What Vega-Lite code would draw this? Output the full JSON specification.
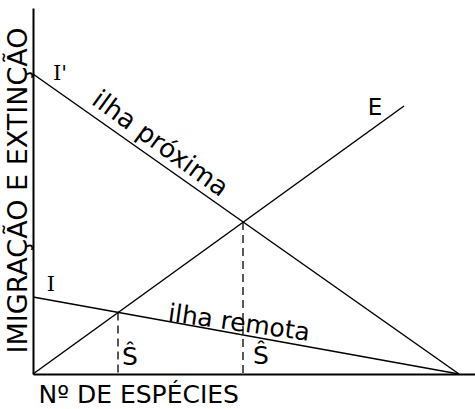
{
  "$schema": "https://vega.github.io/schema/vega-lite/v6.json",
  "width": 442,
  "height": 366,
  "autosize": {"type": "none"},
  "padding": {"left": 33, "top": 8, "right": 0, "bottom": 35},
  "background": "white",
  "config": {
    "view": {"stroke": null},
    "axis": {
      "grid": false, "ticks": false, "labels": false,
      "domainColor": "black", "domainWidth": 2,
      "titleColor": "black", "titleFont": "DejaVu Sans", "titleFontWeight": "normal"
    }
  },
  "datasets": {
    "lines": [
      {"curve": "I'", "x": 0, "y": 300}, {"curve": "I'", "x": 426, "y": 0},
      {"curve": "I", "x": 0, "y": 77}, {"curve": "I", "x": 426, "y": 0},
      {"curve": "E", "x": 0, "y": 0}, {"curve": "E", "x": 371, "y": 268}
    ],
    "drops": [{"x": 85, "y": 61.5}, {"x": 210, "y": 152}],
    "serifLabels": [{"label": "I'", "x": 27, "y": 300}, {"label": "I", "x": 18, "y": 89}],
    "sansLabels": [{"label": "E", "x": 342, "y": 266}],
    "hats": [{"label": "Ŝ", "x": 97, "y": 17}, {"label": "Ŝ", "x": 228, "y": 18}],
    "near": [{"label": "ilha próxima", "x": 127, "y": 230}],
    "far": [{"label": "ilha remota", "x": 206, "y": 51}]
  },
  "encoding": {
    "x": {"field": "x", "type": "quantitative", "scale": {"domain": [0, 442], "nice": false, "zero": false},
      "axis": {"title": "Nº DE ESPÉCIES", "titleFontSize": 25, "titlePadding": 8, "titleAnchor": "start", "titleAlign": "left", "titleX": 5}},
    "y": {"field": "y", "type": "quantitative", "scale": {"domain": [0, 366], "nice": false, "zero": false},
      "axis": {"title": "IMIGRAÇÃO E EXTINÇÃO", "titleFontSize": 27, "titlePadding": 1, "titleY": 182}}
  },
  "layer": [
    {"data": {"name": "lines"}, "mark": {"type": "line", "color": "black", "strokeWidth": 1.5},
     "encoding": {"detail": {"field": "curve"}}},
    {"data": {"name": "drops"}, "mark": {"type": "rule", "color": "black", "strokeWidth": 1.3, "strokeDash": [8, 5]},
     "encoding": {"y2": {"datum": 0}}},
    {"data": {"name": "serifLabels"}, "mark": {"type": "text", "font": "DejaVu Serif", "fontSize": 21, "color": "black"},
     "encoding": {"text": {"field": "label"}}},
    {"data": {"name": "sansLabels"}, "mark": {"type": "text", "font": "DejaVu Sans", "fontSize": 23, "color": "black"},
     "encoding": {"text": {"field": "label"}}},
    {"data": {"name": "hats"}, "mark": {"type": "text", "font": "DejaVu Sans", "fontSize": 25, "color": "black"},
     "encoding": {"text": {"field": "label"}}},
    {"data": {"name": "near"}, "mark": {"type": "text", "font": "DejaVu Sans", "fontSize": 26, "color": "black", "angle": 36},
     "encoding": {"text": {"field": "label"}}},
    {"data": {"name": "far"}, "mark": {"type": "text", "font": "DejaVu Sans", "fontSize": 25, "color": "black", "angle": 8},
     "encoding": {"text": {"field": "label"}}}
  ]
}
